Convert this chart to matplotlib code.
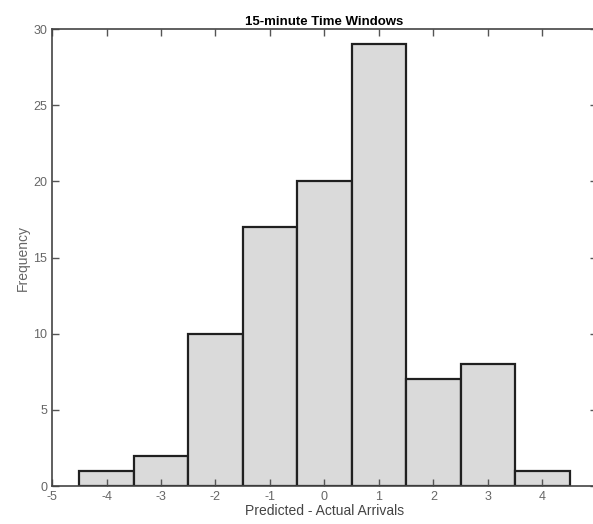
import numpy as np
import matplotlib.pyplot as plt

plt.rcParams['font.family'] = ['Liberation Sans', 'DejaVu Sans']
plt.rcParams['axes.unicode_minus'] = False

# histogram bins: predicted - actual arrivals
centers = [-4, -3, -2, -1, 0, 1, 2, 3, 4]
counts = [1, 2, 10, 17, 20, 29, 7, 8, 1]

fig = plt.figure(figsize=(5.93, 5.24), dpi=100)
ax = fig.add_axes([0.0877, 0.0725, 0.919, 0.872])

ax.bar(centers, counts, width=1.0, color='#dadada', edgecolor='#202020', linewidth=1.6)

ax.set_xlim(-5, 5)
ax.set_ylim(0, 30)
ax.set_xticks(range(-5, 5))
ax.set_yticks(range(0, 31, 5))
ax.tick_params(direction='in', top=True, right=True, length=5, width=1,
               colors='#555555', labelsize=9, labelcolor='#666666')
for s in ax.spines.values():
    s.set_color('#444444')
    s.set_linewidth(1.2)

ax.set_title('15-minute Time Windows', fontsize=9.5, fontweight='bold', pad=3)
ax.set_xlabel('Predicted - Actual Arrivals', fontsize=10, color='#444444', labelpad=1)
ax.set_ylabel('Frequency', fontsize=10, color='#666666', labelpad=2)

fig.savefig('out.png', dpi=100)
